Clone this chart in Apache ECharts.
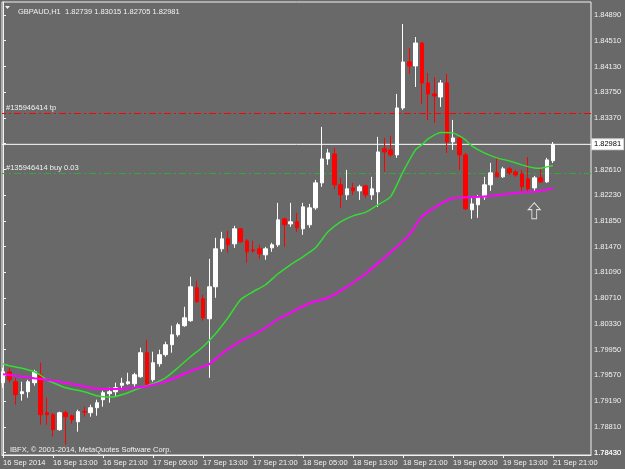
<!DOCTYPE html>
<html>
<head>
    <meta charset="utf-8">
    <title>GBPAUD,H1</title>
    <script src="https://cdn.jsdelivr.net/npm/echarts@6.0.0/dist/echarts.min.js"></script>
    <style type="text/css">
        html, body {
            margin: 0;
            padding: 0;
            background: #696969;
        }

        #main {
            width: 625px;
            height: 469px;
        }
    </style>
</head>
<body>
<div id="main"></div>
<script>
    // one H1 bar per entry: [open, close, low, high]
    var candles = [
        [1.79462, 1.79624, 1.79388, 1.79683], [1.79624, 1.79506, 1.79462, 1.79683],
        [1.79476, 1.79285, 1.79138, 1.79535], [1.79300, 1.79329, 1.79197, 1.79476],
        [1.79329, 1.79476, 1.79241, 1.79506], [1.79462, 1.79624, 1.79418, 1.79653],
        [1.79580, 1.78990, 1.78843, 1.79757], [1.79019, 1.78990, 1.78843, 1.79241],
        [1.78990, 1.78769, 1.78666, 1.79019], [1.78769, 1.79019, 1.78754, 1.79034],
        [1.79019, 1.78960, 1.78548, 1.79049], [1.78975, 1.78916, 1.78857, 1.78990],
        [1.78886, 1.79034, 1.78739, 1.79063], [1.79041, 1.79027, 1.78960, 1.79108],
        [1.79019, 1.79093, 1.78960, 1.79138], [1.79093, 1.79167, 1.78975, 1.79212],
        [1.79212, 1.79315, 1.79108, 1.79344], [1.79300, 1.79329, 1.79167, 1.79388],
        [1.79329, 1.79388, 1.79256, 1.79462], [1.79425, 1.79455, 1.79359, 1.79535],
        [1.79447, 1.79476, 1.79432, 1.79609], [1.79447, 1.79580, 1.79403, 1.79609],
        [1.79550, 1.79905, 1.79535, 1.79979], [1.79905, 1.79432, 1.79403, 1.80097],
        [1.79506, 1.79757, 1.79476, 1.79920], [1.79742, 1.79876, 1.79698, 1.79949],
        [1.79876, 1.80023, 1.79846, 1.80067], [1.80023, 1.80170, 1.79905, 1.80303],
        [1.80170, 1.80318, 1.80141, 1.80347], [1.80303, 1.80421, 1.80288, 1.80583],
        [1.80377, 1.80878, 1.80362, 1.81026], [1.80863, 1.80657, 1.80642, 1.80967],
        [1.80701, 1.80421, 1.80377, 1.80760], [1.80406, 1.80878, 1.79535, 1.81291],
        [1.80878, 1.81439, 1.80716, 1.81601], [1.81439, 1.81586, 1.81394, 1.81689],
        [1.81586, 1.81498, 1.81380, 1.81704], [1.81512, 1.81734, 1.81453, 1.81778],
        [1.81734, 1.81542, 1.81527, 1.81748], [1.81556, 1.81394, 1.81232, 1.81586],
        [1.81424, 1.81409, 1.81380, 1.81556], [1.81439, 1.81365, 1.81291, 1.81498],
        [1.81350, 1.81439, 1.81277, 1.81468], [1.81453, 1.81498, 1.81394, 1.81527],
        [1.81498, 1.81866, 1.81468, 1.82117], [1.81881, 1.81793, 1.81468, 1.81896],
        [1.81807, 1.81837, 1.81763, 1.82117], [1.81837, 1.81748, 1.81689, 1.81970],
        [1.81734, 1.82058, 1.81645, 1.82117], [1.81793, 1.82043, 1.81748, 1.82102],
        [1.82043, 1.82412, 1.82014, 1.82456], [1.82412, 1.82766, 1.82353, 1.83238],
        [1.82766, 1.82854, 1.82678, 1.82914], [1.82840, 1.82383, 1.82324, 1.82928],
        [1.82383, 1.82235, 1.82043, 1.82486], [1.82235, 1.82324, 1.82161, 1.82604],
        [1.82338, 1.82294, 1.82235, 1.82412], [1.82294, 1.82353, 1.82161, 1.82383],
        [1.82368, 1.82235, 1.82191, 1.82383], [1.82235, 1.82324, 1.82161, 1.82501],
        [1.82279, 1.82869, 1.82058, 1.83091], [1.82914, 1.82869, 1.82574, 1.83076],
        [1.82899, 1.82825, 1.82795, 1.83105], [1.82825, 1.83518, 1.82781, 1.83725],
        [1.83518, 1.84197, 1.83489, 1.84757], [1.84197, 1.84138, 1.84020, 1.84403],
        [1.84138, 1.84477, 1.83828, 1.84565], [1.84477, 1.83887, 1.83577, 1.84490],
        [1.83887, 1.83725, 1.83341, 1.84034], [1.83725, 1.83695, 1.83297, 1.83975],
        [1.83680, 1.83887, 1.83533, 1.83931], [1.83887, 1.83017, 1.82854, 1.84020],
        [1.83017, 1.83076, 1.82899, 1.83341], [1.83076, 1.82825, 1.82604, 1.83091],
        [1.82825, 1.82029, 1.82014, 1.82854], [1.82014, 1.82102, 1.81881, 1.82191],
        [1.82088, 1.82206, 1.81896, 1.82235], [1.82206, 1.82383, 1.82161, 1.82501],
        [1.82383, 1.82560, 1.82294, 1.82707], [1.82560, 1.82501, 1.82501, 1.82781],
        [1.82501, 1.82619, 1.82486, 1.82648], [1.82619, 1.82560, 1.82530, 1.82648],
        [1.82574, 1.82530, 1.82501, 1.82604], [1.82545, 1.82353, 1.82279, 1.82604],
        [1.82471, 1.82324, 1.82279, 1.82795], [1.82338, 1.82486, 1.82294, 1.82515],
        [1.82486, 1.82427, 1.82412, 1.82633], [1.82427, 1.82751, 1.82412, 1.82781],
        [1.82739, 1.82981, 1.82705, 1.83015]
    ];

    // moving averages: [bar index, price]
    var maFast = [
        [0, 1.79743], [1, 1.79713], [3, 1.79676], [5, 1.79625], [6, 1.79573], [7, 1.79506],
        [8, 1.79462], [10, 1.79388], [13, 1.79329], [15, 1.79271], [17, 1.79252], [18, 1.79260],
        [20, 1.79315], [22, 1.79388], [24, 1.79447], [26, 1.79535], [28, 1.79683], [30, 1.79846],
        [32, 1.79993], [34, 1.80185], [36, 1.80421], [38, 1.80687], [40, 1.80805], [42, 1.80908],
        [44, 1.81070], [46, 1.81203], [48, 1.81321], [50, 1.81453], [52, 1.81689], [54, 1.81837],
        [56, 1.81925], [58, 1.81977], [60, 1.82088], [62, 1.82206], [64, 1.82574], [66, 1.82899],
        [67, 1.82973], [68, 1.83061], [70, 1.83157], [72, 1.83150], [73, 1.83105], [74, 1.83046],
        [75, 1.82958], [77, 1.82854], [79, 1.82781], [81, 1.82737], [83, 1.82678], [85, 1.82633],
        [86, 1.82629], [87, 1.82648], [88, 1.82667]
    ];
    var maSlow = [
        [0, 1.79588], [2, 1.79566], [5, 1.79529], [7, 1.79506], [10, 1.79462], [13, 1.79408],
        [15, 1.79374], [18, 1.79370], [21, 1.79388], [23, 1.79411], [25, 1.79455], [27, 1.79514],
        [30, 1.79632], [33, 1.79735], [35, 1.79890], [38, 1.80075], [41, 1.80215], [44, 1.80399],
        [46, 1.80495], [49, 1.80635], [52, 1.80716], [55, 1.80878], [58, 1.81070], [61, 1.81306],
        [63, 1.81468], [65, 1.81645], [67, 1.81910], [70, 1.82102], [72, 1.82186], [75, 1.82201],
        [77, 1.82210], [80, 1.82240], [83, 1.82272], [85, 1.82282], [87, 1.82309], [88, 1.82334]
    ];

    var priceTicks = [1.78430, 1.78810, 1.79190, 1.79570, 1.79950, 1.80330, 1.80710, 1.81090, 1.81470,
        1.81850, 1.82230, 1.82610, 1.82990, 1.83370, 1.83750, 1.84130, 1.84510, 1.84890];
    var timeBars = [0, 8, 16, 24, 32, 40, 48, 56, 64, 72, 80, 88];
    var timeLabels = ['16 Sep 2014', '16 Sep 13:00', '16 Sep 21:00', '17 Sep 05:00', '17 Sep 13:00',
        '17 Sep 21:00', '18 Sep 05:00', '18 Sep 13:00', '18 Sep 21:00', '19 Sep 05:00',
        '19 Sep 13:00', '21 Sep 21:00'];

    var tpPrice = 1.83436;
    var buyPrice = 1.82550;
    var bidPrice = 1.82981;
    var arrowMark = [[85, 1.82000]];

    var xMin = -0.16, xMax = 94.08;
    var yMin = 1.78395, yMax = 1.85082;
    var fg = '#f2f2f2';
    var bg = '#696969';
    var font = 'Liberation Sans';

    // horizontal order line; data runs right to left so the end label sits at the left edge
    function levelLine(name, price, color, text) {
        return {
            type: 'line',
            name: name,
            data: [[xMax, price], [xMin, price]],
            showSymbol: false,
            silent: true,
            z: 1,
            lineStyle: {color: color, width: 1, opacity: 1, type: [7, 3, 2, 3]},
            endLabel: {
                show: true,
                formatter: text,
                color: fg,
                fontSize: 7.5,
                distance: 0,
                offset: [4, -6]
            }
        };
    }

    function priceLabel(v) {
        return v.toFixed(5);
    }

    var myChart = echarts.init(document.getElementById('main'));

    option = {
        backgroundColor: bg,
        animation: false,
        textStyle: {fontFamily: font},
        title: [{
            text: 'GBPAUD,H1  1.82739 1.83015 1.82705 1.82981',
            left: 13,
            top: 3,
            textStyle: {color: fg, fontSize: 7.5, fontWeight: 'normal', fontFamily: font}
        }, {
            text: 'IBFX, \u00a9 2001-2014, MetaQuotes Software Corp.',
            left: 5,
            top: 441,
            textStyle: {color: fg, fontSize: 7.5, fontWeight: 'normal', fontFamily: font}
        }],
        graphic: [{
            type: 'polygon',
            shape: {points: [[5, 6], [10, 6], [7.5, 9]]},
            style: {fill: fg}
        }],
        grid: {
            left: 2,
            top: 2,
            right: 34,
            bottom: 14,
            show: true,
            borderColor: fg,
            borderWidth: 1
        },
        xAxis: {
            type: 'value',
            min: xMin,
            max: xMax,
            axisLine: {show: true, lineStyle: {color: fg}},
            axisTick: {show: true, length: 3, customValues: timeBars, lineStyle: {color: fg}},
            axisLabel: {
                customValues: timeBars,
                hideOverlap: false,
                color: fg,
                fontSize: 7.5,
                lineHeight: 8,
                align: 'left',
                margin: 4,
                formatter: function (v) {
                    return timeLabels[timeBars.indexOf(Math.round(v))] || '';
                }
            },
            splitLine: {show: false}
        },
        yAxis: {
            type: 'value',
            position: 'right',
            min: yMin,
            max: yMax,
            axisLine: {show: true, lineStyle: {color: fg}},
            axisTick: {show: true, length: 3, customValues: priceTicks, lineStyle: {color: fg}},
            axisLabel: {
                customValues: priceTicks,
                showMinLabel: true,
                showMaxLabel: true,
                hideOverlap: false,
                color: fg,
                fontSize: 7.5,
                lineHeight: 8,
                margin: 3,
                formatter: priceLabel
            },
            splitLine: {show: false}
        },
        series: [
            levelLine('tp', tpPrice, '#ff0000', '#135946414 tp'),
            levelLine('buy', buyPrice, '#33aa33', '#135946414 buy 0.03'),
            {
                type: 'line',
                name: 'bid',
                data: [[xMin, bidPrice], [xMax, bidPrice]],
                showSymbol: false,
                silent: true,
                z: 1,
                lineStyle: {color: '#ffffff', width: 1},
                endLabel: {
                    show: true,
                    formatter: priceLabel(bidPrice),
                    color: '#000000',
                    backgroundColor: '#ffffff',
                    borderColor: '#d0d0d0',
                    borderWidth: 1,
                    padding: [1, 2, 1, 2],
                    fontSize: 7.5,
                    distance: 1
                }
            }, {
                type: 'candlestick',
                name: 'GBPAUD',
                barWidth: 4,
                z: 2,
                encode: {x: 0, y: [1, 2, 3, 4]},
                data: candles.map(function (c, i) {
                    return [i, c[0], c[1], c[2], c[3]];
                }),
                itemStyle: {
                    color: '#ffffff',
                    borderColor: '#ffffff',
                    color0: '#ff0000',
                    borderColor0: '#ff0000',
                    borderWidth: 1
                }
            }, {
                type: 'line',
                name: 'MA fast',
                data: maFast,
                showSymbol: false,
                smooth: 0.2,
                z: 3,
                lineStyle: {color: '#33dd33', width: 1.5}
            }, {
                type: 'line',
                name: 'MA slow',
                data: maSlow,
                showSymbol: false,
                smooth: 0.2,
                z: 3,
                lineStyle: {color: '#ff00ff', width: 2}
            }, {
                type: 'scatter',
                name: 'arrow',
                data: arrowMark,
                symbol: 'path://M5,0 L10,6 L7,6 L7,14 L3,14 L3,6 L0,6 Z',
                symbolSize: [12, 16],
                z: 4,
                itemStyle: {color: bg, borderColor: '#ffffff', borderWidth: 1}
            }
        ]
    };
    myChart.setOption(option);

    // lowest price label placed exactly where the axis puts its labels
    var lowY = myChart.convertToPixel({yAxisIndex: 0}, priceTicks[0]);
    var axisX = myChart.convertToPixel({xAxisIndex: 0}, xMax);
    myChart.setOption({
        graphic: [{
            type: 'polygon',
            shape: {points: [[5, 6], [10, 6], [7.5, 9]]},
            style: {fill: fg}
        }, {
            type: 'text',
            x: axisX + 3,
            y: lowY,
            style: {
                text: priceLabel(priceTicks[0]),
                fill: fg,
                font: '7.5px ' + font,
                verticalAlign: 'middle',
                align: 'left'
            }
        }]
    });
</script>
</body>
</html>
